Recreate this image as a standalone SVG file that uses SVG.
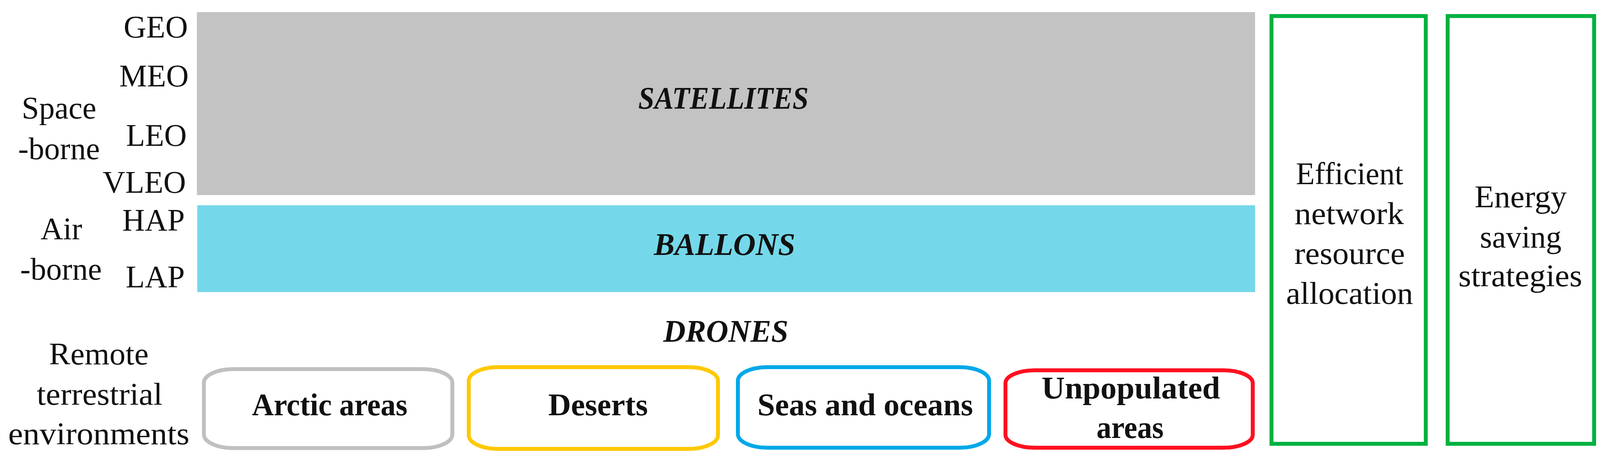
<svg xmlns="http://www.w3.org/2000/svg" width="4114" height="1202" viewBox="0 0 4114 1202">
<style>
text{font-family:"Liberation Serif","Times New Roman",serif;font-size:80px;fill:#111}
.r{text-anchor:end}
.c{text-anchor:middle}
.it{font-style:italic;font-weight:bold}
.b{font-weight:bold}
.env{fill:#fff;stroke-width:10}
.grn{fill:#fff;stroke:#00B140;stroke-width:10}
</style>
<rect width="4114" height="1202" fill="#fff"/>
<g id="labels">
<text class="r" x="481" y="96">GEO</text>
<text class="r" x="483" y="221">MEO</text>
<text class="r" x="478" y="373">LEO</text>
<text class="r" x="476" y="493">VLEO</text>
<text class="r" x="473" y="590">HAP</text>
<text class="r" x="473" y="735">LAP</text>
<text class="c" x="151" y="303">Space</text>
<text class="c" x="151" y="407">-borne</text>
<text class="c" x="157" y="612">Air</text>
<text class="c" x="156" y="715">-borne</text>
<text class="c" x="253" y="932" textLength="255" lengthAdjust="spacingAndGlyphs">Remote</text>
<text class="c" x="255" y="1035" textLength="322" lengthAdjust="spacingAndGlyphs">terrestrial</text>
<text class="c" x="253" y="1136" textLength="464" lengthAdjust="spacingAndGlyphs">environments</text>
</g>
<g id="satellites">
<rect x="504" y="31" width="2709" height="468" fill="#C3C3C3"/>
<text class="c it" x="1852" y="278" textLength="436" lengthAdjust="spacingAndGlyphs">SATELLITES</text>
</g>
<g id="ballons">
<rect x="505" y="525" width="2708" height="222" fill="#75D8EA"/>
<text class="c it" x="1855" y="652" textLength="362" lengthAdjust="spacingAndGlyphs">BALLONS</text>
</g>
<g id="drones">
<text class="c it" x="1858" y="874" textLength="320" lengthAdjust="spacingAndGlyphs">DRONES</text>
</g>
<g id="arctic">
<rect class="env" x="522" y="944" width="636" height="202" rx="75" ry="35" stroke="#C0C0C0"/>
<text class="c b" x="844" y="1062" textLength="398" lengthAdjust="spacingAndGlyphs">Arctic areas</text>
</g>
<g id="deserts">
<rect class="env" x="1200" y="939" width="638" height="209" rx="75" ry="35" stroke="#FFC800"/>
<text class="c b" x="1531" y="1062" textLength="255" lengthAdjust="spacingAndGlyphs">Deserts</text>
</g>
<g id="seas">
<rect class="env" x="1889" y="939" width="643" height="206" rx="75" ry="35" stroke="#00A8E8"/>
<text class="c b" x="2215" y="1062" textLength="552" lengthAdjust="spacingAndGlyphs">Seas and oceans</text>
</g>
<g id="unpopulated">
<rect class="env" x="2574" y="947" width="633" height="198" rx="75" ry="33" stroke="#FF1020"/>
<text class="c b" x="2895" y="1019" textLength="457" lengthAdjust="spacingAndGlyphs">Unpopulated</text>
<text class="c b" x="2893" y="1120" textLength="172" lengthAdjust="spacingAndGlyphs">areas</text>
</g>
<g id="efficient">
<rect class="grn" x="3255" y="41" width="395" height="1094"/>
<text class="c" x="3455" y="471" textLength="275" lengthAdjust="spacingAndGlyphs">Efficient</text>
<text class="c" x="3454" y="573" textLength="280" lengthAdjust="spacingAndGlyphs">network</text>
<text class="c" x="3455" y="675" textLength="283" lengthAdjust="spacingAndGlyphs">resource</text>
<text class="c" x="3455" y="777" textLength="325" lengthAdjust="spacingAndGlyphs">allocation</text>
</g>
<g id="energy">
<rect class="grn" x="3706" y="41" width="375" height="1094"/>
<text class="c" x="3893" y="530" textLength="236" lengthAdjust="spacingAndGlyphs">Energy</text>
<text class="c" x="3893" y="633">saving</text>
<text class="c" x="3892" y="732" textLength="317" lengthAdjust="spacingAndGlyphs">strategies</text>
</g>
<g id="connectors"></g>
</svg>
